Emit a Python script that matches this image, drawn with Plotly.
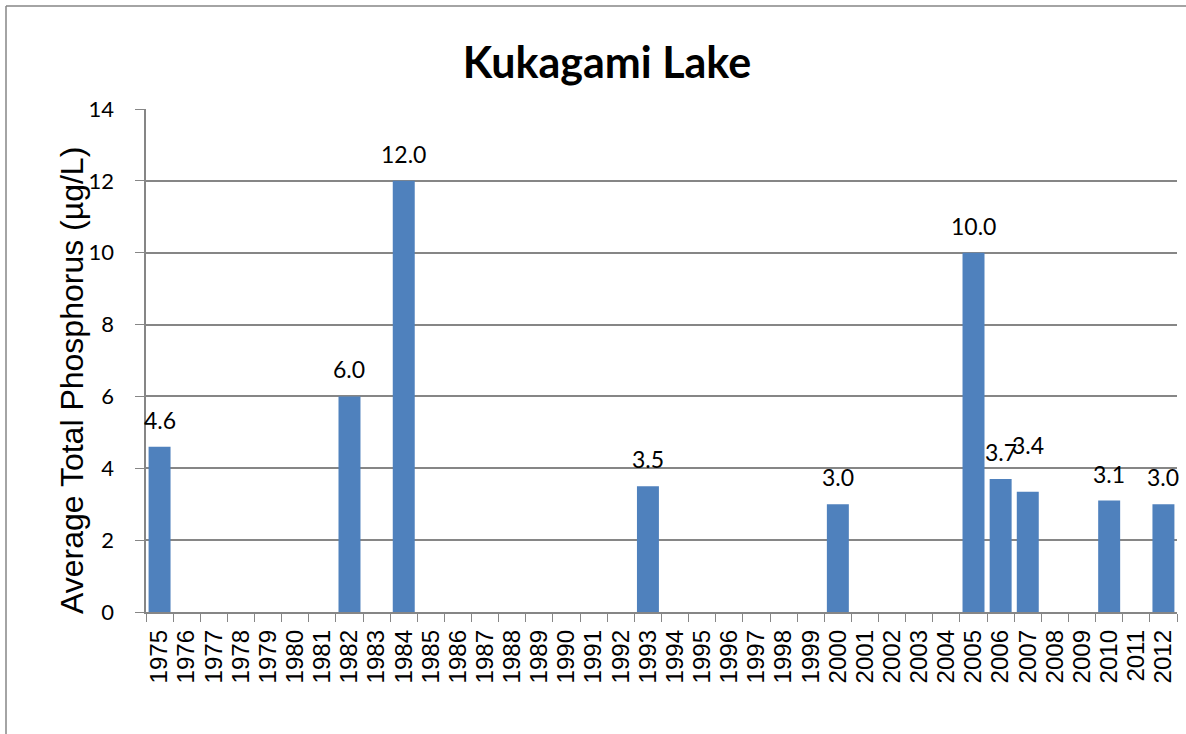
import plotly.graph_objects as go

years = [str(y) for y in range(1975, 2013)]
measured_years = ["1975", "1982", "1984", "1993", "2000", "2005", "2006", "2007", "2010", "2012"]
measured_values = [4.6, 6.0, 12.0, 3.5, 3.0, 10.0, 3.7, 3.35, 3.1, 3.0]
y_ticks = [0, 2, 4, 6, 8, 10, 12, 14]

W, H = 1186, 734
L, R, T, B = 146, 9, 109, 122
pw = W - L - R
ph = H - T - B

def px_x(px):
    return (px - L) / pw

def px_y(py):
    return (H - B - py) / ph

NBSP = "\u00a0"

fig = go.Figure()
fig.add_trace(go.Bar(
    x=measured_years, y=measured_values,
    marker=dict(color="#4F81BD", line=dict(width=0)),
    showlegend=False, hoverinfo="x+y",
))

annotations = []
for yr, v in zip(measured_years, measured_values):
    shift = 27 if yr != "2007" else 47
    annotations.append(dict(
        x=years.index(yr), y=v, xref="x", yref="y", text=f"{v:.1f}", showarrow=False,
        xanchor="center", yanchor="middle", yshift=shift,
        font=dict(family="Lato, Open Sans, sans-serif", size=23, color="#000000"),
    ))
annotations.append(dict(
    x=px_x(72), y=px_y(381), xref="paper", yref="paper",
    text="Average Total Phosphorus (µg/L)", textangle=-90, showarrow=False,
    xanchor="center", yanchor="middle",
    font=dict(family="Liberation Sans, Arial, sans-serif", size=32, color="#000000"),
))

fig.update_layout(
    width=W, height=H,
    margin=dict(l=L, r=R, t=T, b=B, autoexpand=False),
    paper_bgcolor="white", plot_bgcolor="white",
    bargap=0.19,
    title=dict(text="<b>Kukagami Lake</b>", x=px_x(607), xref="paper", xanchor="center",
               y=1 - 63 / H, yanchor="middle",
               font=dict(family="Lato, Open Sans, sans-serif", size=43, color="#000000")),
    xaxis=dict(
        type="category", categoryorder="array", categoryarray=years,
        tickmode="array", tickvals=years, ticktext=[y + NBSP for y in years],
        tickangle=-90, ticks="outside", ticklen=8, tickcolor="#868686",
        tickson="boundaries",
        showline=True, linecolor="#868686", linewidth=1.5,
        showgrid=False, range=[-0.5, len(years) - 0.5],
        tickfont=dict(family="Liberation Sans, Arial, sans-serif", size=24, color="#000000"),
        automargin=False,
    ),
    yaxis=dict(
        range=[0, 14], tickmode="array", tickvals=y_ticks,
        ticktext=[f"{t}{NBSP * 3}" for t in y_ticks],
        ticks="outside", ticklen=9, tickcolor="#868686",
        showline=True, linecolor="#868686", linewidth=1.5,
        showgrid=True, gridcolor="#868686", gridwidth=1.5,
        zeroline=False,
        tickfont=dict(family="Lato, Open Sans, sans-serif", size=22, color="#000000"),
        automargin=False,
    ),
    annotations=annotations,
    shapes=[
        dict(type="line", xref="paper", yref="paper", x0=px_x(6), x1=px_x(1190),
             y0=px_y(6), y1=px_y(6), line=dict(color="#868686", width=1.5), layer="above"),
        dict(type="line", xref="paper", yref="paper", x0=px_x(6), x1=px_x(6),
             y0=px_y(6), y1=px_y(740), line=dict(color="#868686", width=1.5), layer="above"),
    ],
)

fig.write_html(
    "out.html",
    config={"displayModeBar": False},
    post_script="document.body.style.margin='0';document.body.style.overflow='hidden';",
)
